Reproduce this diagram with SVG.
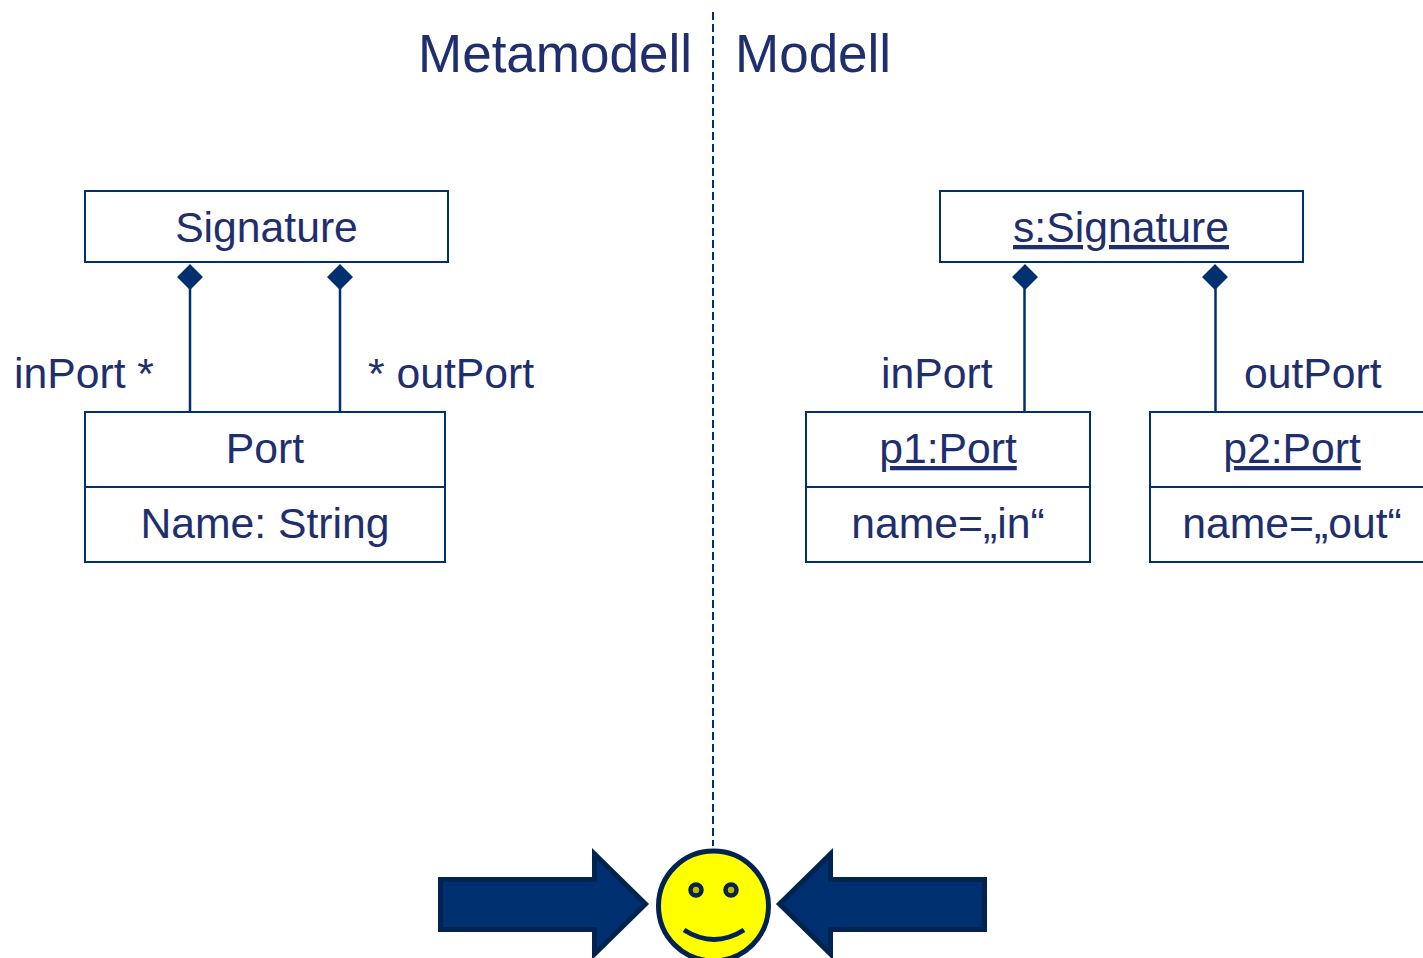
<svg xmlns="http://www.w3.org/2000/svg" width="1423" height="958" viewBox="0 0 1423 958">
<style>
text{font-family:"Liberation Sans",Arial,sans-serif;fill:#1f2f6e;font-size:42.700px;text-decoration-skip-ink:none}
.m{text-anchor:middle}
.t{font-size:53px}
.b{fill:#fff;stroke:#00306f;stroke-width:2}
.l{fill:none;stroke:#00306f;stroke-width:2.500}
.d{fill:#00306f}
.a{fill:#00306f;stroke:#00234f;stroke-width:5}
.s{fill:none;stroke:#00234f}
</style>
<rect width="1423" height="958" fill="#fff"/>
<g id="connectors">
<path d="M713 12V846" fill="none" stroke="#00306f" stroke-width="2" stroke-dasharray="8 4"/>
<path class="l" d="M190 288V412M340 288V412M1024.500 288V412M1215.500 288V412"/>
<path class="d" d="M190 264l13 13-13 13-13-13zM340 264l13 13-13 13-13-13zM1025 264l13 13-13 13-13-13zM1215 264l13 13-13 13-13-13z"/>
</g>
<g id="title-meta"><text class="t" x="418" y="72">Metamodell</text></g>
<g id="title-model"><text class="t" x="735" y="72">Modell</text></g>
<g id="signature"><rect class="b" x="85" y="191" width="363" height="71"/><text class="m" x="266.500" y="242">Signature</text></g>
<g id="port"><rect class="b" x="85" y="412" width="360" height="150"/><path class="b" d="M85 487H445"/><text class="m" x="265" y="463">Port</text><text class="m" x="265" y="538">Name: String</text></g>
<g id="s-signature"><rect class="b" x="940" y="191" width="363" height="71"/><text class="m" x="1121" y="242" text-decoration="underline">s:Signature</text></g>
<g id="p1"><rect class="b" x="806" y="412" width="284" height="150"/><path class="b" d="M806 487H1090"/><text class="m" x="948" y="463" text-decoration="underline">p1:Port</text><text class="m" x="948" y="538">name=„in“</text></g>
<g id="p2"><rect class="b" x="1150" y="412" width="284" height="150"/><path class="b" d="M1150 487H1434"/><text class="m" x="1292" y="463" text-decoration="underline">p2:Port</text><text class="m" x="1292" y="538">name=„out“</text></g>
<g id="labels"><text x="14" y="388">inPort *</text><text x="368" y="388">* outPort</text><text x="881" y="388">inPort</text><text x="1244" y="388">outPort</text></g>
<g id="arrow-left"><path class="a" d="M440.500 879.500H594.500V854L645.500 904 594.500 954V929.500H440.500z"/></g>
<g id="arrow-right"><path class="a" d="M984.500 879.500H830.500V854L779.500 904 830.500 954V929.500H984.500z"/></g>
<g id="smiley"><ellipse cx="713.500" cy="906" rx="55" ry="55" fill="#ff0" stroke="#00234f" stroke-width="5"/><circle cx="696" cy="890" r="5.500" fill="#c8b400" stroke="#00234f" stroke-width="4.500"/><circle cx="731" cy="890" r="5.500" fill="#c8b400" stroke="#00234f" stroke-width="4.500"/><path class="s" d="M684 930Q714 949 744 930" stroke-width="5"/></g>
</svg>
